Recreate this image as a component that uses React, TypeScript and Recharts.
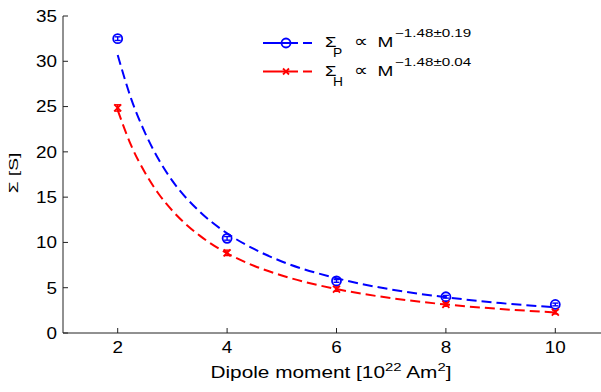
import React from 'react';
import { ComposedChart, Line, Scatter, XAxis, YAxis, ErrorBar } from 'recharts';

// measured points
const dipole = [2, 4, 6, 8, 10];
const sigmaP = [32.5, 10.45, 5.75, 4.0, 3.15];
const sigmaPErr = [0.2, 0.2, 0.15, 0.15, 0.15];
const sigmaH = [24.85, 8.85, 4.85, 3.15, 2.3];
const sigmaHErr = [0.35, 0.3, 0.25, 0.2, 0.2];

// power-law fit curves
const fitM = [2, 2.25, 2.5, 2.75, 3, 3.5, 4, 4.5, 5, 6, 7, 8, 9, 10];
const fitP = [30.7, 25.8, 22.1, 19.15, 16.8, 13.4, 11.0, 9.25, 7.9, 6.05, 4.8, 3.95, 3.3, 2.85];
const fitH = [24.6, 20.65, 17.7, 15.35, 13.5, 10.75, 8.8, 7.4, 6.35, 4.85, 3.85, 3.15, 2.65, 2.27];

const xTicks = [2, 4, 6, 8, 10];
const yTicks = [0, 5, 10, 15, 20, 25, 30, 35];

const FONT = '"Liberation Sans", Arial, Helvetica, sans-serif';
const AXIS = '#222';
const BLUE = '#0000ff';
const RED = '#ff0000';

const pointsP = dipole.map((m, i) => ({ m, v: sigmaP[i], err: sigmaPErr[i] }));
const pointsH = dipole.map((m, i) => ({ m, v: sigmaH[i], err: sigmaHErr[i] }));
const fitPData = fitM.map((m, i) => ({ m, v: fitP[i] }));
const fitHData = fitM.map((m, i) => ({ m, v: fitH[i] }));

// the original's text is rendered wide, so stretch it horizontally
function SText({ x, y, size, sx = 1, anchor = 'start', rotate = 0, children }: any) {
    return (
        <text
            transform={`translate(${x} ${y}) rotate(${rotate}) scale(${sx} 1)`}
            x={0}
            y={0}
            textAnchor={anchor}
            fontSize={size}
            fontFamily={FONT}
            fill="#000"
        >
            {children}
        </text>
    );
}

const XTick = (props: any) => {
    const { x, y, payload } = props;
    return (
        <g>
            <line x1={x} x2={x} y1={y} y2={y - 5} stroke={AXIS} strokeWidth={1} />
            <SText x={x} y={y + 20} size={16} sx={1.18} anchor="middle">
                {payload.value}
            </SText>
        </g>
    );
};

const YTick = (props: any) => {
    const { x, y, payload } = props;
    return (
        <g>
            <line x1={x} x2={x + 5} y1={y} y2={y} stroke={AXIS} strokeWidth={1} />
            <SText x={x - 6} y={y + 5.8} size={16} sx={1.18} anchor="end">
                {payload.value}
            </SText>
        </g>
    );
};

const Circle = (props: any) => {
    const { cx, cy } = props;
    return <circle cx={cx} cy={cy} r={4.5} fill="none" stroke={BLUE} strokeWidth={1.8} />;
};

const Cross = (props: any) => {
    const { cx, cy } = props;
    const s = 3.5;
    return (
        <g stroke={RED} strokeWidth={1.8}>
            <line x1={cx - s} y1={cy - s} x2={cx + s} y2={cy + s} />
            <line x1={cx - s} y1={cy + s} x2={cx + s} y2={cy - s} />
        </g>
    );
};

function LegendBox() {
    const rows = [
        { color: BLUE, sub: 'P', exp: '\u22121.48\u00b10.19', y: 43, marker: 'circle' },
        { color: RED, sub: 'H', exp: '\u22121.48\u00b10.04', y: 71.5, marker: 'cross' },
    ];
    return (
        <svg width={601} height={100} style={{ position: 'absolute', left: 0, top: 0 }}>
            {rows.map((r) => (
                <g key={r.sub}>
                    <line x1={263} x2={312} y1={r.y} y2={r.y} stroke={r.color} strokeWidth={2} strokeDasharray="35 5 9" />
                    {r.marker === 'circle' ? (
                        <circle cx={286} cy={r.y} r={4.5} fill="none" stroke={r.color} strokeWidth={1.8} />
                    ) : (
                        <g stroke={r.color} strokeWidth={1.8}>
                            <line x1={283} y1={r.y - 3} x2={289} y2={r.y + 3} />
                            <line x1={283} y1={r.y + 3} x2={289} y2={r.y - 3} />
                        </g>
                    )}
                    <SText x={325} y={r.y + 4.2} size={15.5} sx={1.2}>Σ</SText>
                    <SText x={333} y={r.y + 14} size={12} sx={1.15}>{r.sub}</SText>
                    <SText x={353.5} y={r.y + 4.2} size={17} sx={1.15}>∝</SText>
                    <SText x={377.5} y={r.y + 4.2} size={15} sx={1.27}>M</SText>
                    <SText x={395} y={r.y - 5.8} size={11} sx={1.38}>{r.exp}</SText>
                </g>
            ))}
        </svg>
    );
}

export default function App() {
    return (
        <div style={{ position: 'absolute', left: 0, top: 0, width: 601, height: 392, overflow: 'hidden', background: '#fff' }}>
            <ComposedChart width={620} height={392} margin={{ top: 16, right: 10, left: 0, bottom: 0 }}>
                <XAxis
                    type="number"
                    dataKey="m"
                    domain={[1, 11]}
                    ticks={xTicks}
                    allowDataOverflow
                    height={59}
                    tickSize={0}
                    tickMargin={0}
                    tickLine={false}
                    axisLine={{ stroke: AXIS }}
                    tick={<XTick />}
                />
                <YAxis
                    type="number"
                    dataKey="v"
                    domain={[0, 35]}
                    ticks={yTicks}
                    width={63}
                    tickSize={0}
                    tickMargin={0}
                    tickLine={false}
                    axisLine={{ stroke: AXIS }}
                    tick={<YTick />}
                />
                <Line
                    data={fitPData}
                    dataKey="v"
                    type="monotone"
                    stroke={BLUE}
                    strokeWidth={2}
                    strokeDasharray="10 5"
                    dot={false}
                    activeDot={false}
                    isAnimationActive={false}
                />
                <Line
                    data={fitHData}
                    dataKey="v"
                    type="monotone"
                    stroke={RED}
                    strokeWidth={2}
                    strokeDasharray="10 5"
                    dot={false}
                    activeDot={false}
                    isAnimationActive={false}
                />
                <Scatter data={pointsP} dataKey="v" shape={<Circle />} isAnimationActive={false}>
                    <ErrorBar dataKey="err" direction="y" width={3} stroke={BLUE} strokeWidth={1.4} />
                </Scatter>
                <Scatter data={pointsH} dataKey="v" shape={<Cross />} isAnimationActive={false}>
                    <ErrorBar dataKey="err" direction="y" width={3} stroke={RED} strokeWidth={1.4} />
                </Scatter>
            </ComposedChart>
            <svg width={601} height={392} style={{ position: 'absolute', left: 0, top: 0, pointerEvents: 'none' }}>
                <SText x={331} y={377.5} size={16} sx={1.3} anchor="middle">
                    Dipole moment [10<tspan dy={-6.5} fontSize={11.5}>22</tspan>
                    <tspan dy={6.5}> Am</tspan>
                    <tspan dy={-6.5} fontSize={11.5}>2</tspan>
                    <tspan dy={6.5}>]</tspan>
                </SText>
                <SText x={18} y={173} size={13.5} sx={1.42} anchor="middle" rotate={-90}>
                    Σ [S]
                </SText>
            </svg>
            <LegendBox />
        </div>
    );
}
